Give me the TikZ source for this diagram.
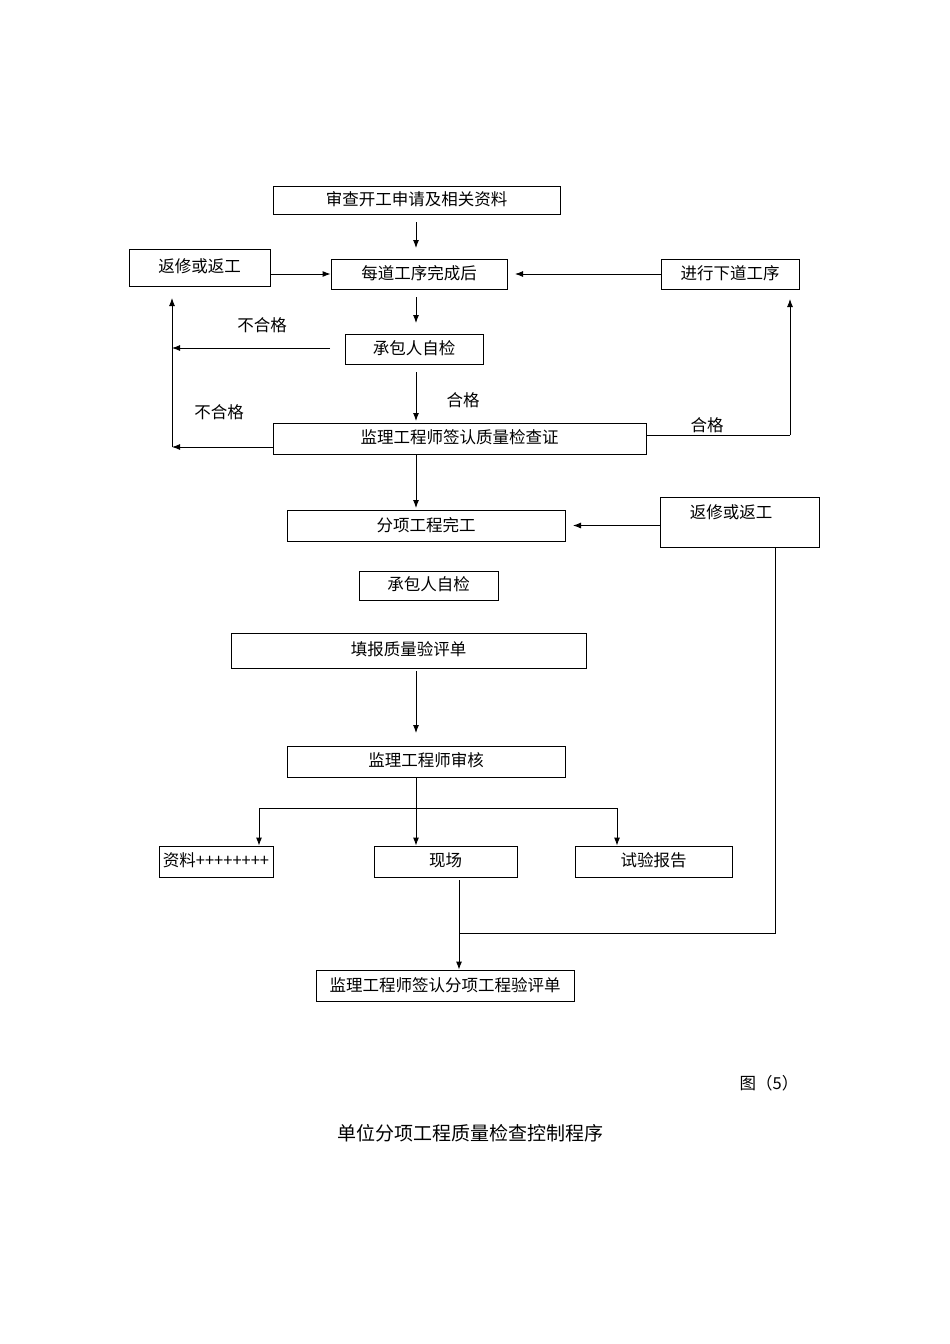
\documentclass[tikz,border=0pt]{standalone}
\usepackage{fontspec}
\newfontfamily\cjk{Noto Sans CJK SC}
\usetikzlibrary{arrows.meta}
\begin{document}
\begin{tikzpicture}[x=1pt,y=-1pt,
  bx/.style={draw,line width=0.9pt,inner sep=0pt,font=\cjk\fontsize{16.5}{16.5}\selectfont},
  lb/.style={inner sep=0pt,font=\cjk\fontsize{16.5}{16.5}\selectfont},
  ar/.style={line width=0.9pt,-{Latex[length=8pt,width=6pt]}},
  ln/.style={line width=0.9pt}]
\useasboundingbox (0,0) rectangle (950,1344);
\newcommand{\bx}[6]{\node[bx,minimum width=#4-#2,minimum height=#5-#3] (#1) at ({(#2+#4)/2},{(#3+#5)/2}) {\raisebox{3pt}{#6}};}
\bx{a}{273}{186}{560}{214}{审查开工申请及相关资料}
\bx{fl}{129}{249}{270}{286}{返修或返工}
\bx{b}{331}{259}{507}{289}{每道工序完成后}
\bx{nx}{661}{259}{799}{289}{进行下道工序}
\bx{c}{345}{334}{483}{364}{承包人自检}
\bx{d}{273}{423}{646}{454}{监理工程师签认质量检查证}
\bx{e}{287}{510}{565}{541}{分项工程完工}
\node[bx,minimum width=159,minimum height=50,anchor=north west] (fr) at (660,497) {};
\node[lb] (frt) at (731,512) {返修或返工};
\bx{f}{359}{571}{498}{600}{承包人自检}
\bx{g}{231}{633}{586}{668}{填报质量验评单}
\bx{h}{287}{746}{565}{777}{监理工程师审核}
\bx{i1}{159}{846}{273}{877}{资料++++++++}
\bx{i2}{374}{846}{517}{877}{现场}
\bx{i3}{575}{846}{732}{877}{试验报告}
\bx{j}{316}{970}{574}{1001}{监理工程师签认分项工程验评单}
\coordinate (L1) at (172,348);
\coordinate (L2) at (172,447);
\coordinate (Ltop) at (172,298);
\coordinate (R1) at (790,435);
\coordinate (Rtop) at (790,299);
\coordinate (hj) at (416,808);
\coordinate (hl) at (259,808);
\coordinate (hr) at (617,808);
\coordinate (fb) at (775,933);
\coordinate (mj) at (459,933);
\draw[ar] (416,222) -- (416,248);
\draw[ar] (fl.east|-b) -- (b.west);
\draw[ar] (nx.west) -- (515,274);
\draw[ar] (416,297) -- (416,323);
\draw[ar] (330,348) -- (L1);
\draw[ar] (416,372) -- (416,421);
\draw[ar] (d.west|-L2) -- (L2);
\draw[ar] (L2) -- (Ltop);
\draw[ln] (d.east|-R1) -- (R1);
\draw[ar] (R1) -- (Rtop);
\draw[ar] (416,454) -- (416,508);
\draw[ar] (fr.west|-e) -- (573,525.5);
\draw[ar] (416,671) -- (416,733);
\draw[ln] (416,777) -- (hj);
\draw[ln] (hl) -- (hr);
\draw[ar] (hl) -- (i1.north-|hl);
\draw[ar] (hj) -- (i2.north-|hj);
\draw[ar] (hr) -- (i3.north-|hr);
\draw[ar] (459,880) -- (j.north-|mj);
\draw[ln] (775,547) -- (fb) -- (mj);
\node[lb] at (262,325) {不合格};
\node[lb] at (463,400) {合格};
\node[lb] at (219,412) {不合格};
\node[lb] at (707,425) {合格};
\node[lb] at (769,1083) {图（5）};
\node[lb,font=\cjk\fontsize{19}{19}\selectfont] at (470,1133) {单位分项工程质量检查控制程序};
\end{tikzpicture}
\end{document}
